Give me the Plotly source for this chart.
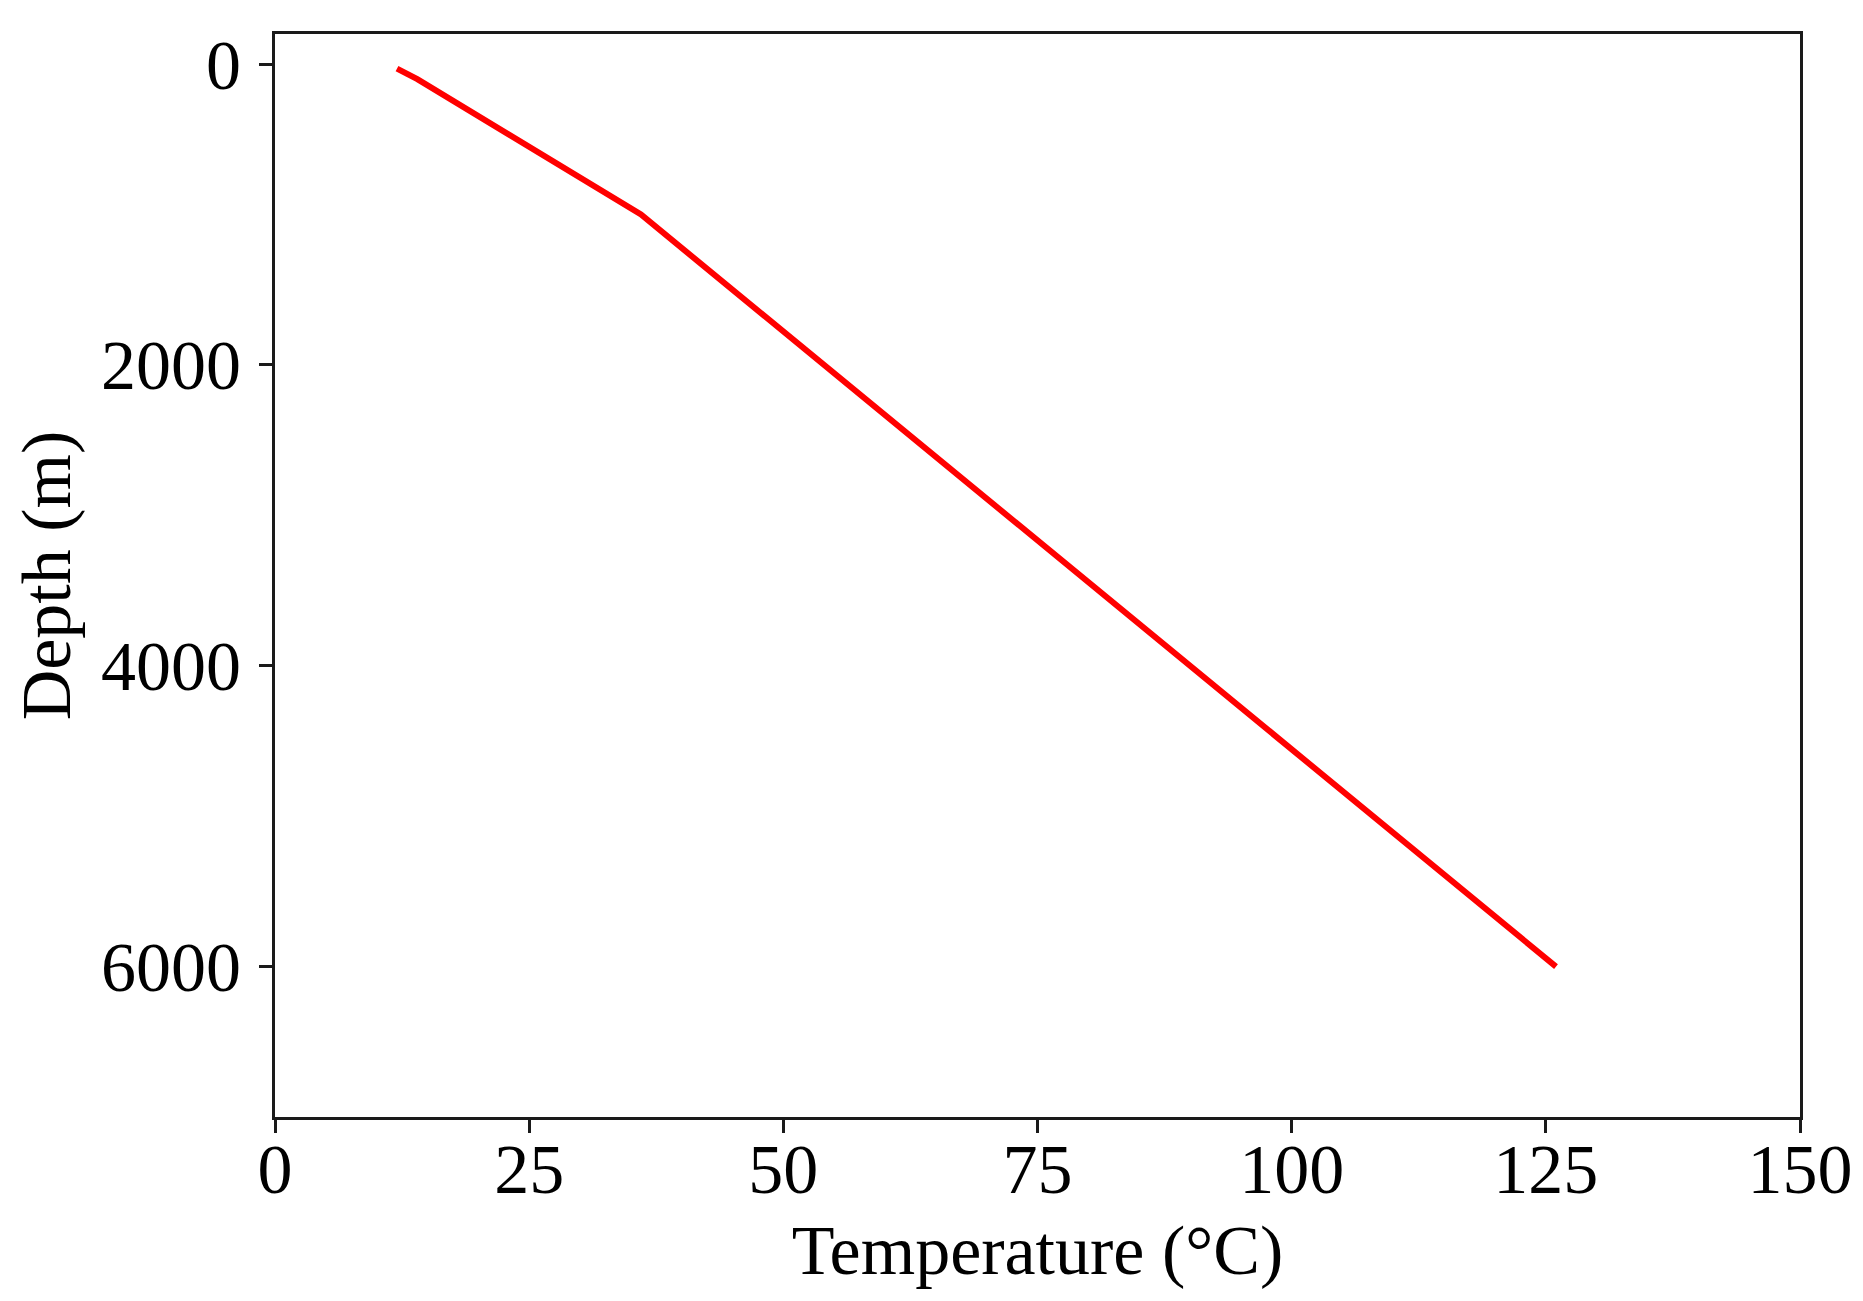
import plotly.graph_objects as go

# Data
temperature_c = [12, 14, 36, 126]
depth_m = [30, 100, 1000, 6000]

x_tick_vals = [0, 25, 50, 75, 100, 125, 150]
y_tick_vals = [0, 2000, 4000, 6000]

FONT = "Liberation Serif, Times New Roman, serif"

fig = go.Figure()
fig.add_trace(go.Scatter(
    x=temperature_c, y=depth_m, mode="lines",
    line=dict(color="#ff0000", width=6),
    showlegend=False,
))

fig.update_layout(
    width=1863, height=1301, autosize=False,
    margin=dict(l=267, r=71, t=26, b=192, pad=0),
    paper_bgcolor="white", plot_bgcolor="white",
    font=dict(family=FONT, size=70, color="black"),
)

axis_common = dict(
    showgrid=False, zeroline=False,
    showline=True, mirror=True, linecolor="#1a1a1a", linewidth=3,
    ticks="outside", ticklen=13, tickwidth=3, tickcolor="#1a1a1a",
    tickfont=dict(family=FONT, size=70, color="black"),
)

fig.update_xaxes(
    range=[0, 150], tickvals=x_tick_vals,
    ticklabelstandoff=-24,
    title=dict(text="Temperature (°C)", font=dict(family=FONT, size=70), standoff=18),
    **axis_common,
)
fig.update_yaxes(
    range=[7000, -200], tickvals=y_tick_vals,
    ticklabelstandoff=4,
    title=dict(text="Depth (m)", font=dict(family=FONT, size=70), standoff=14),
    **axis_common,
)

fig.write_html("out.html")
